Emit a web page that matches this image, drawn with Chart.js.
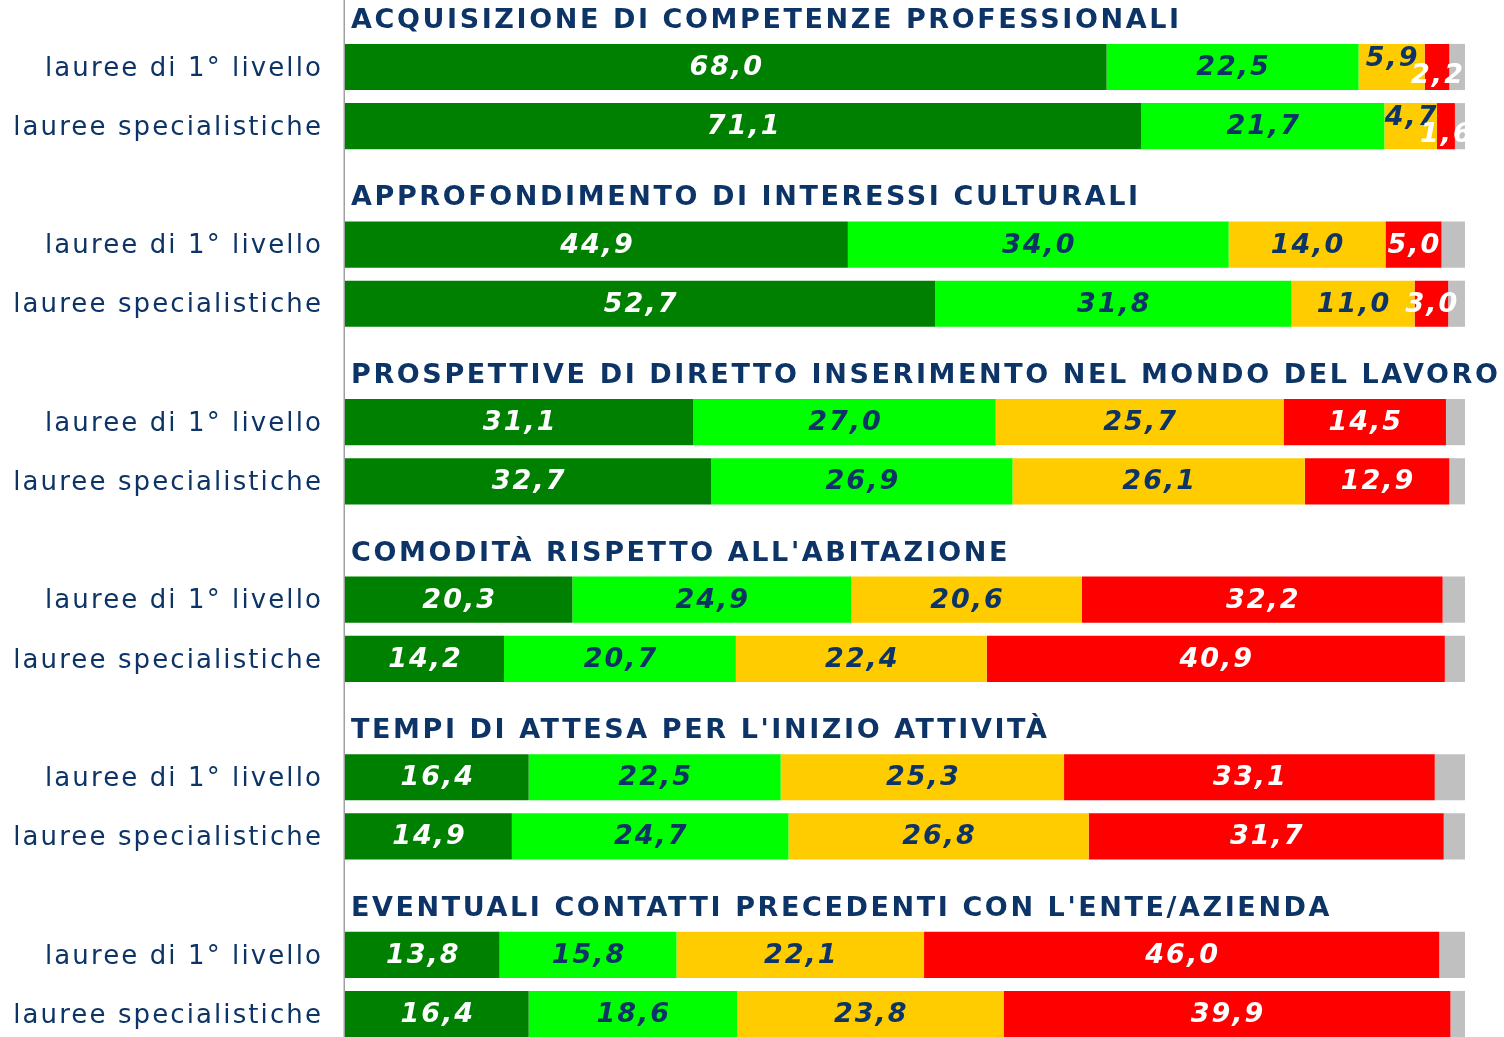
<!DOCTYPE html>
<html>
<head>
<meta charset="utf-8">
<script src="https://cdn.jsdelivr.net/npm/chart.js@4/dist/chart.umd.min.js"></script>
<style>
html,body{margin:0;padding:0;background:#fff;}
canvas{display:block;}
</style>
</head>
<body>
<canvas id="c" width="1504" height="1037"></canvas>
<script>
// ---- data ----
const groupTitles = [
  "ACQUISIZIONE DI COMPETENZE PROFESSIONALI",
  "APPROFONDIMENTO DI INTERESSI CULTURALI",
  "PROSPETTIVE DI DIRETTO INSERIMENTO NEL MONDO DEL LAVORO",
  "COMODITÀ RISPETTO ALL'ABITAZIONE",
  "TEMPI DI ATTESA PER L'INIZIO ATTIVITÀ",
  "EVENTUALI CONTATTI PRECEDENTI CON L'ENTE/AZIENDA"
];
const rowLabels = ["lauree di 1° livello", "lauree specialistiche"];
const molto      = [68.0, 71.1, 44.9, 52.7, 31.1, 32.7, 20.3, 14.2, 16.4, 14.9, 13.8, 16.4];
const abbastanza = [22.5, 21.7, 34.0, 31.8, 27.0, 26.9, 24.9, 20.7, 22.5, 24.7, 15.8, 18.6];
const poco       = [5.9, 4.7, 14.0, 11.0, 25.7, 26.1, 20.6, 22.4, 25.3, 26.8, 22.1, 23.8];
const perNiente  = [2.2, 1.6, 5.0, 3.0, 14.5, 12.9, 32.2, 40.9, 33.1, 31.7, 46.0, 39.9];
const nonRisp    = [1.4, 0.9, 2.1, 1.5, 1.7, 1.4, 2.0, 1.8, 2.7, 1.9, 2.3, 1.3];

// ---- build slots: title row + 2 bar rows per group ----
const labels = [];
groupTitles.forEach(() => { labels.push(""); rowLabels.forEach(r => labels.push(r)); });
function expand(arr) {
  const out = [];
  groupTitles.forEach((g, gi) => { out.push(null); out.push(arr[gi*2]); out.push(arr[gi*2+1]); });
  return out;
}
const NAVY = "#0D3466";
const FONT = "'DejaVu Sans', Verdana, sans-serif";
const seriesDefs = [
  {label: "molto", data: molto, color: "#008000", text: "#FFFFFF", show: true},
  {label: "abbastanza", data: abbastanza, color: "#00FF00", text: NAVY, show: true},
  {label: "poco", data: poco, color: "#FFCC00", text: NAVY, show: true},
  {label: "per niente", data: perNiente, color: "#FF0000", text: "#FFFFFF", show: true},
  {label: "non risponde", data: nonRisp, color: "#C0C0C0", text: NAVY, show: false}
];

const datasets = seriesDefs.map(s => ({
  label: s.label,
  data: expand(s.data),
  backgroundColor: s.color,
  borderWidth: 0,
  categoryPercentage: 1.0,
  barPercentage: 0.78,
  clip: false
}));

const textPlugin = {
  id: "textPlugin",
  beforeDraw(chart) {
    chart.ctx.letterSpacing = "2.1px";
  },
  beforeDatasetsDraw(chart) {
    const ctx = chart.ctx;
    ctx.save();
    ctx.strokeStyle = "#A0A0A0";
    ctx.lineWidth = 1.5;
    ctx.beginPath();
    ctx.moveTo(chart.chartArea.left - 0.75, 0);
    ctx.lineTo(chart.chartArea.left - 0.75, chart.height);
    ctx.stroke();
    ctx.restore();
  },
  afterDatasetsDraw(chart) {
    const ctx = chart.ctx;
    const y = chart.scales.y;
    // group titles
    ctx.save();
    ctx.letterSpacing = "2.6px";
    ctx.font = "bold 27px " + FONT;
    ctx.fillStyle = NAVY;
    ctx.textAlign = "left";
    ctx.textBaseline = "middle";
    groupTitles.forEach((t, gi) => {
      ctx.fillText(t, chart.chartArea.left + 6, y.getPixelForValue(gi*3) + 13);
    });
    ctx.restore();
    // value labels
    ctx.save();
    ctx.letterSpacing = "2px";
    ctx.font = "italic bold 27px " + FONT;
    ctx.textAlign = "center";
    ctx.textBaseline = "middle";
    seriesDefs.forEach((s, di) => {
      if (!s.show) return;
      const meta = chart.getDatasetMeta(di);
      meta.data.forEach((el, i) => {
        const v = chart.data.datasets[di].data[i];
        if (v === null || v === undefined) return;
        const redVal = chart.data.datasets[3].data[i];
        let dy = 0;
        if (redVal < 2.5) {
          if (di === 2) dy = -9;
          if (di === 3) dy = 8;
        }
        ctx.fillStyle = s.text;
        const cx = (el.x + el.base) / 2 + 1;
        ctx.fillText(v.toFixed(1).replace(".", ","), cx, el.y + 1 + dy);
      });
    });
    ctx.restore();
  }
};

new Chart(document.getElementById("c"), {
  type: "bar",
  data: {labels: labels, datasets: datasets},
  options: {
    indexAxis: "y",
    responsive: false,
    devicePixelRatio: 1,
    animation: false,
    events: [],
    layout: {padding: {top: 7.8, bottom: 23, left: 0, right: 39}},
    plugins: {legend: {display: false}, tooltip: {enabled: false}, title: {display: false}},
    scales: {
      x: {stacked: true, min: 0, max: 100, display: false},
      y: {
        stacked: true,
        offset: false,
        grid: {display: false, drawTicks: false},
        border: {display: false},
        ticks: {
          autoSkip: false,
          padding: 22,
          labelOffset: 2,
          color: NAVY,
          font: {family: FONT, size: 26}
        },
        afterFit(scale) {
          scale.width = 345;
          scale.paddingTop = 0;
          scale.paddingBottom = 0;
        }
      }
    }
  },
  plugins: [textPlugin]
});
</script>
</body>
</html>
